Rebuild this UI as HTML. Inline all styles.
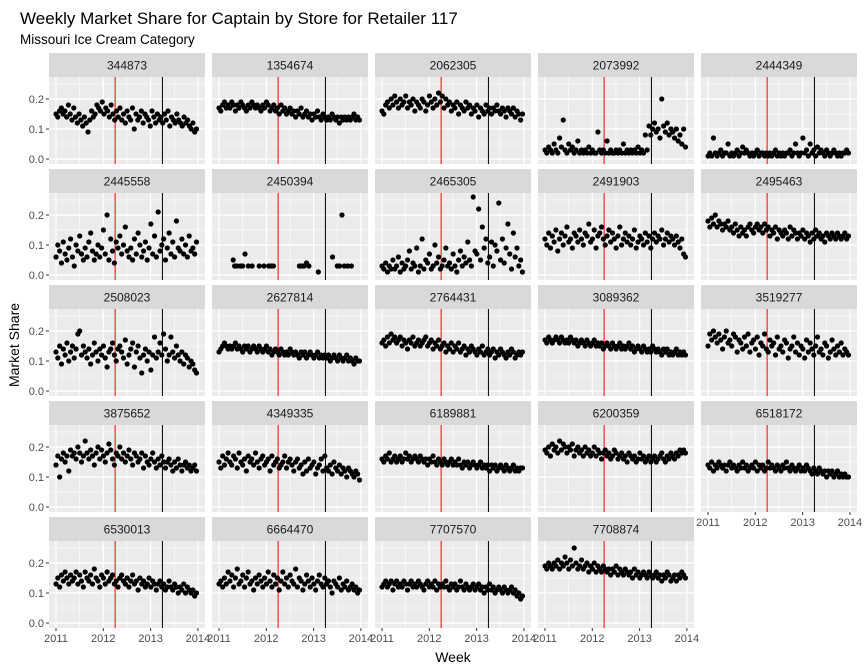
<!DOCTYPE html>
<html><head><meta charset="utf-8"><style>
body{margin:0;background:#fff;}
svg{display:block;font-family:"Liberation Sans",Arial,sans-serif;}
</style></head><body>
<svg id="c" width="864" height="672" viewBox="0 0 864 672">
<text x="20" y="24" font-size="17" fill="#000">Weekly Market Share for Captain by Store for Retailer 117</text>
<text x="20" y="44" font-size="13.5" fill="#000">Missouri Ice Cream Category</text>
<text x="453" y="662" font-size="14" text-anchor="middle" fill="#000">Week</text>
<text x="19" y="345" font-size="14" text-anchor="middle" transform="rotate(-90 19 345)" fill="#000">Market Share</text>
</svg>
<script>
const stores=["344873","1354674","2062305","2073992","2444349","2445558","2450394","2465305","2491903","2495463","2508023","2627814","2764431","3089362","3519277","3875652","4349335","6189881","6200359","6518172","6530013","6664470","7707570","7708874"];
const yTicks=[0,0.1,0.2];
const yTickLabels=["0.0","0.1","0.2"];
const xTicks=[2011,2012,2013,2014];
const xTickLabels=["2011","2012","2013","2014"];
const redLineYear=2012.25;
const blackLineYear=2013.25;
// values in percent share, evenly spaced weekly-ish over 2011-2014 (null = missing)
const s0=[15,14,16,17,15,16,14,18,15,13,17,14,12,15,13,11,14,12,9,13,16,14,15,18,17,16,19,15,17,16,14,18,15,13,16,14,17,13,15,12,16,14,13,17,10,15,13,14,16,12,15,14,13,11,16,14,12,15,13,14,12,15,13,16,11,14,13,12,15,13,12,11,14,12,13,11,10,12,9,10];
const s1=[17,16,18,19,17,18,17,19,18,16,18,17,19,18,17,16,18,17,19,18,17,18,17,16,18,17,19,18,16,17,18,16,17,15,18,16,17,15,16,17,15,16,14,16,15,17,14,15,16,14,15,13,15,14,16,14,13,15,14,13,14,13,15,14,13,14,12,14,13,14,13,14,13,14,15,13,14,13];
const s2=[16,15,18,19,17,20,18,21,19,17,20,18,19,21,17,19,18,20,16,19,18,17,20,19,16,18,21,19,17,20,18,22,19,21,17,20,18,19,16,18,17,19,15,18,17,16,19,17,18,15,17,16,18,14,17,16,15,18,16,17,15,17,16,18,16,15,17,16,14,17,16,15,17,14,16,15,13,15];
const s3=[3,2,4,3,2,5,3,2,7,4,13,3,2,5,3,4,2,3,6,2,3,2,3,2,4,2,3,2,2,9,3,2,3,2,6,2,3,2,2,3,2,3,2,5,2,3,2,3,2,3,2,4,2,3,2,8,3,11,8,10,12,9,10,7,20,11,9,12,8,10,9,7,10,6,8,5,10,4];
const s4=[1,2,1,7,2,1,2,3,1,2,2,5,1,2,1,2,3,1,2,4,2,3,2,1,2,1,2,3,1,2,2,1,2,1,2,1,2,3,1,2,1,2,1,2,2,3,1,2,5,2,1,2,7,2,3,1,5,2,3,1,4,2,3,2,1,3,2,1,2,3,2,1,2,1,2,2,3,2];
const s5=[6,10,8,4,11,7,5,9,12,6,3,10,8,13,7,5,9,6,11,14,8,5,7,10,6,9,15,7,20,5,12,8,4,11,9,13,7,10,16,8,6,9,5,12,7,14,10,6,8,11,5,9,17,7,13,6,21,8,10,12,5,9,14,7,11,6,18,9,8,12,7,10,6,13,8,9,7,11];
const s6x=[2011.3,2011.33,2011.38,2011.45,2011.5,2011.55,2011.62,2011.7,2011.85,2011.95,2012.05,2012.1,2012.15,2012.7,2012.75,2012.8,2012.85,2012.9,2013.1,2013.4,2013.5,2013.55,2013.6,2013.65,2013.72,2013.8];
const s6=[5,3,3,3,3,7,3,3,3,3,3,3,3,3,3,3,4,3,1,6,3,3,20,3,3,3];
const s7=[3,2,4,1,3,2,5,2,3,6,1,4,2,3,5,8,2,4,3,9,1,3,12,2,5,4,7,2,3,10,4,6,2,3,5,9,3,4,2,7,3,1,5,8,3,6,4,11,5,3,26,8,7,22,5,16,9,12,4,6,11,3,10,8,24,5,12,4,9,17,7,2,14,6,9,3,5,1];
const s8=[12,10,14,9,13,11,15,8,12,14,10,13,16,11,12,9,14,13,11,15,12,10,14,13,17,11,12,15,9,13,14,16,12,10,13,15,11,14,12,9,13,16,10,12,14,11,13,10,12,15,9,11,13,12,10,14,11,13,9,12,14,11,13,12,15,10,12,14,11,13,12,10,13,11,9,12,7,6];
const s9=[18,16,19,17,20,16,18,17,15,17,16,18,15,16,14,17,15,13,16,14,15,13,16,17,15,14,16,17,15,16,14,17,15,16,13,15,14,16,12,15,14,13,15,14,12,16,13,15,14,12,14,13,15,12,14,13,11,14,12,15,13,14,12,13,11,14,13,12,14,13,12,14,13,12,13,14,12,13];
const s10=[13,11,15,9,14,12,16,10,13,15,11,14,19,20,12,15,13,11,14,9,12,16,13,10,14,12,15,11,8,13,14,16,12,10,14,15,13,11,17,9,12,14,16,8,13,15,11,6,12,14,10,13,7,12,18,11,13,16,12,19,14,10,12,18,13,11,15,12,10,13,9,12,11,8,10,9,7,6];
const s11=[13,14,15,16,15,14,15,14,15,16,14,15,14,13,15,14,15,13,14,15,14,13,15,14,13,14,15,13,14,12,13,14,13,12,14,13,12,13,12,14,13,12,13,12,11,13,12,13,11,12,13,12,11,12,13,11,12,11,12,11,12,10,11,12,11,10,12,11,10,11,12,10,11,10,9,11,10,10];
const s12=[16,17,15,18,16,19,17,18,16,17,18,15,17,16,14,17,16,18,15,16,17,15,16,17,18,15,16,17,14,16,15,17,14,15,16,13,15,14,16,13,15,14,16,13,14,15,12,14,13,15,14,13,12,14,13,15,12,13,14,12,13,14,11,13,12,14,13,12,11,13,12,14,13,11,12,13,12,13];
const s13=[17,16,18,17,16,17,18,17,16,18,17,16,17,16,18,17,16,17,15,16,17,16,15,17,16,15,16,17,15,16,15,16,14,15,16,15,14,16,15,14,15,16,14,15,14,15,16,14,15,13,14,15,14,13,15,14,13,14,13,15,14,13,14,13,12,14,13,14,12,13,12,13,14,12,13,12,13,12];
const s14=[15,19,17,20,18,16,19,17,14,18,20,16,17,15,19,18,13,17,16,14,18,15,19,13,16,17,14,18,12,16,15,19,14,13,17,15,16,12,18,14,15,13,17,16,11,14,15,18,13,16,12,15,14,11,17,13,16,14,12,15,18,13,14,12,16,15,11,13,17,14,12,15,13,16,12,14,13,12];
const s15=[14,17,10,16,18,15,17,12,19,17,18,16,20,18,15,17,22,18,16,19,17,14,18,20,16,19,17,15,18,21,19,16,14,18,17,20,16,18,15,17,19,16,14,18,17,15,16,18,13,17,15,14,16,18,15,13,16,14,17,15,13,15,16,14,12,15,13,16,14,12,14,15,13,14,12,13,14,12];
const s16=[15,13,17,14,16,18,15,14,17,16,13,18,15,14,16,12,17,15,16,14,18,15,13,16,17,14,15,16,12,17,14,15,16,13,14,15,17,13,15,16,14,12,15,16,13,14,11,15,12,16,13,14,15,11,13,14,16,12,17,13,12,14,11,15,13,12,14,11,13,12,10,13,12,11,10,12,11,9];
const s17=[16,15,17,16,18,15,16,17,15,16,17,15,16,18,16,17,15,16,17,16,15,17,16,15,16,14,16,15,17,15,14,16,15,14,16,15,14,15,16,14,15,14,16,14,13,15,14,15,13,14,15,14,13,14,15,13,14,13,14,12,14,13,14,12,13,14,13,12,14,13,12,13,14,12,13,12,13,13];
const s18=[19,18,20,17,21,19,20,18,22,19,21,20,18,20,19,21,17,19,20,18,19,17,20,18,19,17,18,20,17,19,18,16,18,19,17,18,16,17,19,18,16,17,18,16,17,15,18,17,16,17,15,16,18,16,17,15,16,17,15,16,17,15,16,17,18,16,15,17,16,18,17,16,18,17,19,18,19,18];
const s19=[14,13,15,12,14,13,15,14,13,14,12,14,15,13,14,13,12,14,13,15,13,14,12,13,14,13,15,12,14,13,14,12,13,15,13,14,13,12,14,13,12,14,13,15,13,12,14,13,12,13,14,12,13,12,14,13,12,11,13,12,11,13,12,11,12,10,12,11,12,10,11,12,10,11,10,11,10,10];
const s20=[13,15,12,16,14,17,15,13,16,14,15,17,13,16,14,12,17,15,14,16,13,18,15,14,12,16,15,13,17,14,15,16,13,14,12,15,16,14,13,15,12,14,16,13,14,11,15,13,14,12,13,15,12,14,13,11,13,14,12,13,11,12,14,12,11,13,12,10,12,11,13,10,12,11,10,11,9,10];
const s21=[13,14,12,15,13,17,14,16,12,15,18,13,14,16,12,15,17,13,14,11,15,13,16,14,12,15,13,17,14,12,16,13,15,11,14,17,13,15,12,16,14,13,18,12,15,14,11,13,16,14,12,15,13,11,14,16,13,12,15,13,14,12,10,14,13,12,15,11,13,12,14,11,12,13,11,12,10,11];
const s22=[12,13,14,12,13,14,11,13,14,12,13,12,14,13,11,13,14,12,13,12,14,13,12,11,13,14,12,13,12,14,11,13,12,13,12,14,12,11,13,12,13,11,12,14,12,11,13,12,11,12,13,11,12,13,11,12,10,12,11,13,11,12,10,11,12,11,10,12,11,10,11,12,10,11,9,10,8,9];
const s23=[19,18,20,19,18,20,19,21,18,20,19,22,20,18,21,19,25,20,18,19,21,18,19,20,17,19,18,20,17,19,18,17,19,18,17,18,16,18,17,19,16,18,17,16,18,17,16,17,15,18,16,17,15,16,17,16,15,17,16,15,16,17,15,16,14,16,15,17,16,14,15,16,14,16,15,17,16,15];
const series=[s0,s1,s2,s3,s4,s5,s6,s7,s8,s9,s10,s11,s12,s13,s14,s15,s16,s17,s18,s19,s20,s21,s22,s23];
const seriesX={6:s6x};

const NS="http://www.w3.org/2000/svg";
const svg=document.getElementById('c');
function mk(tag,attrs,parent){const e=document.createElementNS(NS,tag);for(const k in attrs)e.setAttribute(k,attrs[k]);(parent||svg).appendChild(e);return e;}
const colX0=49,colStep=163,panelW=156,rowY0=53,rowStep=116,stripH=24,plotH=87;
function xs(col,yr){return colX0+col*colStep+7+(yr-2011)*47.3;}
function ys(row,v){return rowY0+row*rowStep+stripH+82-v*300;}
stores.forEach((st,i)=>{
  const col=i%5,row=Math.floor(i/5);
  const px=colX0+col*colStep, sy=rowY0+row*rowStep, py=sy+stripH;
  const g=mk('g',{});
  
  
  const strip=mk('rect',{x:px,y:sy,width:panelW,height:stripH,fill:'#d9d9d9'},g);
  
  
  const lab=mk('text',{x:px+panelW/2,y:sy+16.5,'font-size':12,'text-anchor':'middle',fill:'#1a1a1a'},g);
  lab.textContent=st;
  
  
  const bg=mk('rect',{x:px,y:py,width:panelW,height:plotH,fill:'#ebebeb'},g);
  
  
  [0.05,0.15,0.25].forEach(v=>{const y=ys(row,v);mk('line',{x1:px,x2:px+panelW,y1:y,y2:y,stroke:'#fff','stroke-width':0.6},g);});
  [2011.5,2012.5,2013.5].forEach(t=>{const x=xs(col,t);mk('line',{x1:x,x2:x,y1:py,y2:py+plotH,stroke:'#fff','stroke-width':0.6},g);});
  yTicks.forEach(v=>{const y=ys(row,v);mk('line',{x1:px,x2:px+panelW,y1:y,y2:y,stroke:'#fff','stroke-width':1.2},g);});
  xTicks.forEach(t=>{const x=xs(col,t);mk('line',{x1:x,x2:x,y1:py,y2:py+plotH,stroke:'#fff','stroke-width':1.2},g);});
  const rl=mk('line',{x1:xs(col,redLineYear),x2:xs(col,redLineYear),y1:py,y2:py+plotH,stroke:'#ff0000','stroke-width':1},g);
  
  
  const bl=mk('line',{x1:xs(col,blackLineYear),x2:xs(col,blackLineYear),y1:py,y2:py+plotH,stroke:'#000','stroke-width':1},g);
  
  
  const vals=series[i], xv=seriesX[i];
  vals.forEach((v,j)=>{
    if(v===null)return;
    const yr=xv?xv[j]:2011+j/(vals.length-1)*2.97;
    const c=mk('circle',{cx:xs(col,yr),cy:ys(row,v/100),r:2.6,fill:'#000'},g);
    
    
  });
  if(col===0){
    yTicks.forEach((v,k)=>{const y=ys(row,v);
      mk('line',{x1:px-3,x2:px,y1:y,y2:y,stroke:'#333','stroke-width':1},g);
      const t=mk('text',{x:px-5,y:y+4,'font-size':11,'text-anchor':'end',fill:'#4d4d4d'},g);
      t.textContent=yTickLabels[k];
      
      });
  }
  if(row===4||(row===3&&col===4)){
    xTicks.forEach((tv,k)=>{const x=xs(col,tv);
      mk('line',{x1:x,x2:x,y1:py+plotH,y2:py+plotH+3,stroke:'#333','stroke-width':1},g);
      const t=mk('text',{x:x,y:py+plotH+14,'font-size':11,'text-anchor':'middle',fill:'#4d4d4d'},g);
      t.textContent=xTickLabels[k];
      
      });
  }
});
</script>
</body></html>
